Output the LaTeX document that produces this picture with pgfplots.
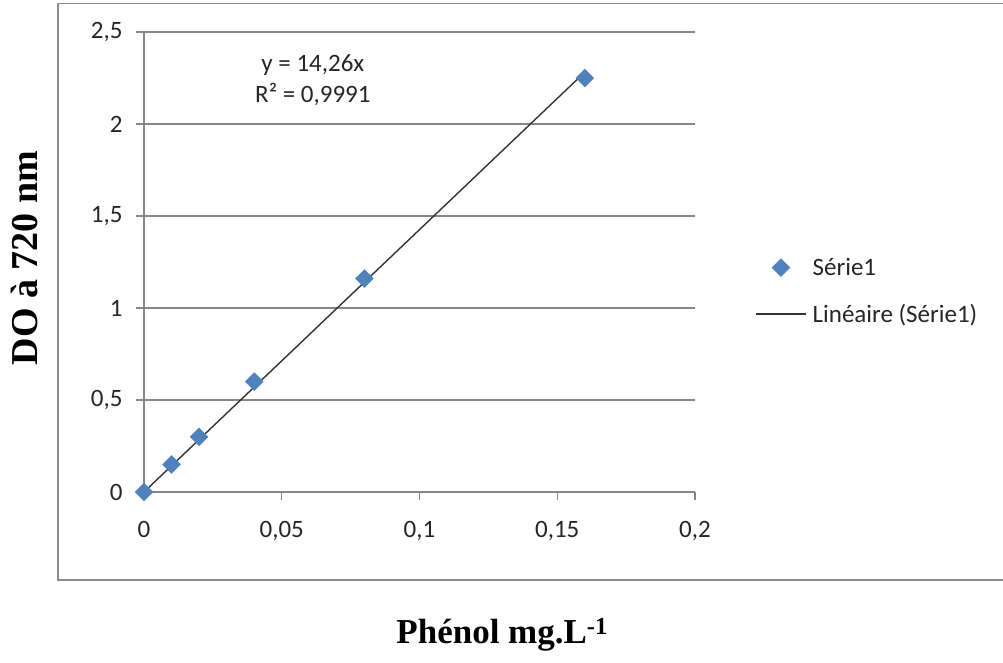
\documentclass[border=0pt]{standalone}
\usepackage{pgfplots}
\pgfplotsset{compat=1.18}
\usepackage{fontspec}
\setmainfont{Carlito}
\newfontfamily\tnr{Liberation Serif}
\definecolor{axisgray}{HTML}{868686}
\definecolor{framegray}{HTML}{8C8C8C}
\definecolor{ptblue}{HTML}{4F81BD}
\definecolor{txt}{HTML}{262626}
\pgfplotsset{
  legmark/.style={legend image code/.code={\draw[##1] plot coordinates {(25pt,0pt)};}},
  legline/.style={legend image code/.code={\draw[##1] (0pt,0pt) -- (50pt,0pt);}},
}
\begin{document}
\begin{tikzpicture}[x=1pt,y=1pt]
\path[use as bounding box] (0,0) rectangle (1003,-662);
\draw[framegray, line width=1.6pt] (1004,-3.5) -- (58,-3.5) -- (58,-580) -- (1004,-580);
\begin{axis}[
  at={(144pt,-492pt)}, anchor=south west,
  scale only axis, width=551pt, height=460pt,
  xmin=0, xmax=0.2, ymin=0, ymax=2.5,
  axis x line=bottom, axis y line=left,
  axis line style={-, draw=axisgray, line width=1.3pt},
  xtick={0,0.05,0.1,0.15,0.2},
  xticklabels={0,{0,05},{0,1},{0,15},{0,2}},
  ytick={0,0.5,1,1.5,2,2.5},
  yticklabels={0,{0,5},1,{1,5},2,{2,5}},
  ymajorgrids, grid style={draw=axisgray, line width=1.3pt},
  tick align=outside, major tick length=8pt,
  tick style={draw=axisgray, line width=1.3pt},
  tick label style={font=\fontsize{25}{30}\selectfont, text=txt},
  yticklabel style={xshift=-10pt},
  xticklabel style={yshift=-18pt},
  xlabel={\tnr\bfseries Phénol mg.L\textsuperscript{-1}},
  xlabel style={at={(axis description cs:0.65,-0.311)}, anchor=center, font=\fontsize{35}{40}\selectfont},
  ylabel={\tnr\bfseries DO à 720 nm},
  ylabel style={at={(axis description cs:-0.216,0.509)}, anchor=center, rotate=0, font=\fontsize{38}{44}\selectfont},
  legend style={draw=none, fill=none, inner sep=0pt, at={(axis description cs:1.109,0.437)}, anchor=west,
    font=\fontsize{25}{30}\selectfont, text=txt, row sep=21pt,
    nodes={inner sep=3pt},
    /tikz/every odd column/.append style={column sep=3pt}},
  legend cell align=left,
  clip=false,
]
\addplot[only marks, mark=square*, mark size=6.3pt, mark options={rotate=45, fill=ptblue, draw=ptblue}, legmark]
  coordinates {(0,0) (0.01,0.15) (0.02,0.30) (0.04,0.60) (0.08,1.16) (0.16,2.25)};
\addlegendentry{Série1}
\addplot[no marks, draw=black!80, line width=1.4pt, legline]
  coordinates {(0,0) (0.16,2.2816)};
\addlegendentry{Linéaire (Série1)}
\node[align=center, font=\fontsize{25}{31}\selectfont, text=txt] at (axis cs:0.0613,2.24) {y = 14,26x\\R² = 0,9991};
\end{axis}
\end{tikzpicture}
\end{document}
